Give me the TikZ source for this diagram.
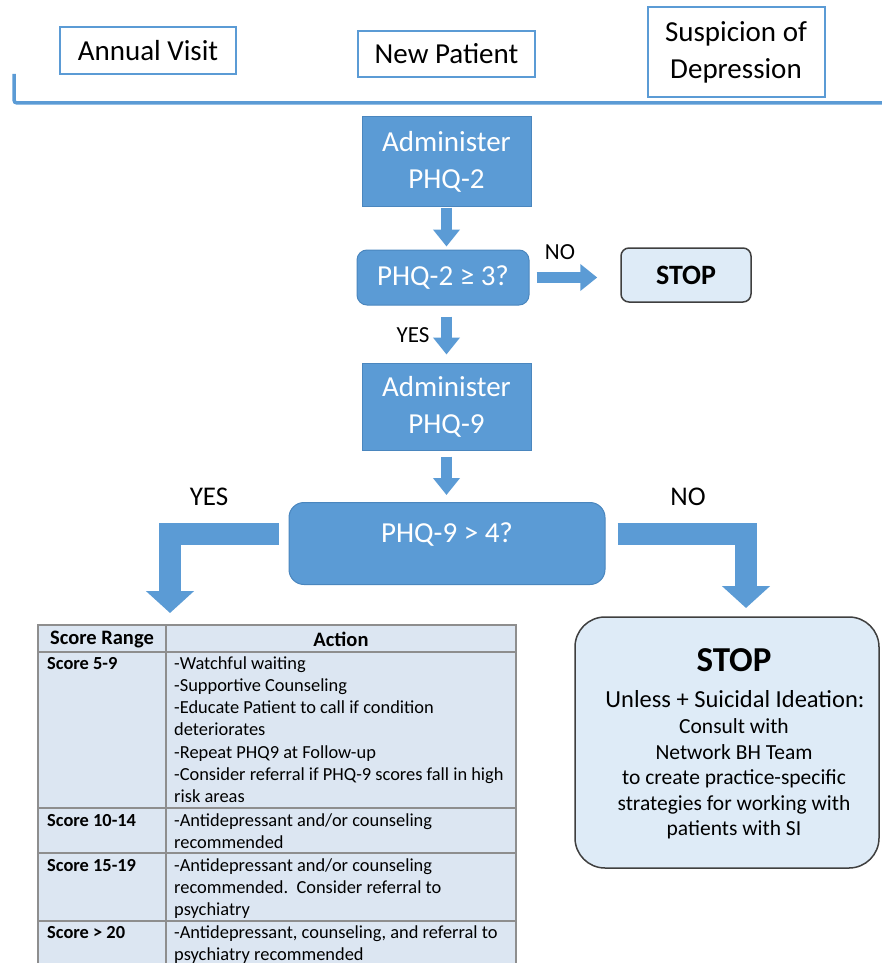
\documentclass[tikz,border=0pt]{standalone}
\usepackage{fontspec}
\setmainfont{Carlito}
\usetikzlibrary{positioning,calc,arrows.meta}
\definecolor{blockblue}{HTML}{5B9BD5}
\definecolor{blockedge}{HTML}{4A86BE}
\definecolor{stopfill}{HTML}{DEEBF7}
\definecolor{stopedge}{HTML}{3F3F3F}
\definecolor{tablefill}{HTML}{DCE6F2}
\definecolor{tableline}{HTML}{8E8E8E}

\newcommand{\boxfont}{\fontsize{29}{37}\selectfont}
\newcommand{\answerfont}{\fontsize{23}{28}\selectfont}
\newcommand{\bigansfont}{\fontsize{27}{32}\selectfont}
\newcommand{\stopsmall}{\fontsize{28}{34}\selectfont\bfseries}
\newcommand{\bigstop}{\fontsize{35}{42}\selectfont\bfseries}
\newcommand{\unlessfont}{\fontsize{24.5}{29}\selectfont}
\newcommand{\stopbody}{\fontsize{21.5}{25.5}\selectfont}
\newcommand{\tabletxt}{\fontsize{18.4}{22.2}\selectfont}
\newcommand{\tablebold}{\fontsize{18.4}{22.2}\selectfont\bfseries}
\newcommand{\headbold}{\fontsize{20.5}{24}\selectfont\bfseries}

\tikzset{
  visitbox/.style={draw=blockblue,line width=2pt,fill=white,inner sep=0pt,font=\boxfont,align=center},
  stepbox/.style={draw=blockedge,line width=1pt,fill=blockblue,text=white,inner sep=0pt,font=\boxfont,align=center},
  askbox/.style={stepbox,rounded corners=10pt},
  stopbox/.style={draw=stopedge,line width=1.5pt,fill=stopfill,inner sep=0pt},
  flowarrow/.style={blockblue,line width=11pt,-{Triangle[width=26pt,length=17pt]}},
  bigarrow/.style={blockblue,line width=22pt,line join=miter,-{Triangle[width=47pt,length=22pt]}},
  answer/.style={font=\answerfont},
  biganswer/.style={font=\bigansfont},
  cellhead/.style={font=\tablebold,anchor=north west,inner sep=0pt},
  celltext/.style={font=\tabletxt,anchor=north west,inner sep=0pt,align=left},
  rule/.style={tableline,line width=1.5pt}
}

\begin{document}
\begin{tikzpicture}[x=1pt,y=-1pt]
    \useasboundingbox (0,0) rectangle (882,963);

    % entry points
    \node[visitbox,minimum width=176pt,minimum height=47pt] (annual) at (148,50.5) {Annual Visit};
    \node[visitbox,minimum width=177pt,minimum height=46pt] (newpat) at (446.5,54) {New Patient};
    \node[visitbox,minimum width=177pt,minimum height=90pt] (suspicion) at (736,52) {Suspicion of\\Depression};
    \draw[blockblue,line width=3.5pt,rounded corners=3pt] (14,74) -- (14,103) -- (890,103);

    % PHQ-2
    \node[stepbox,minimum width=169pt,minimum height=89pt] (adm2) at (446.5,161.5) {Administer\\PHQ-2};
    \node[askbox,minimum width=172pt,minimum height=55pt] (dec2) at (443,277.5) {PHQ-2 ≥ 3?};
    \node[stopbox,rounded corners=8pt,minimum width=130pt,minimum height=54pt,font=\stopsmall] (stop1) at (686,275) {STOP};
    \draw[flowarrow,shorten <=1pt,shorten >=3pt] (adm2.south) -- (adm2.south |- dec2.north);
    \draw[flowarrow,shorten <=7pt,shorten >=23pt] (dec2.east) -- (dec2.east -| stop1.west);
    \node[answer] (no2) at (560,252) {NO};

    % PHQ-9
    \node[stepbox,minimum width=169pt,minimum height=87pt] (adm9) at (446.5,406.5) {Administer\\PHQ-9};
    \draw[flowarrow,shorten <=11pt,shorten >=8pt] (adm9.north |- dec2.south) -- (adm9.north);
    \node[answer] (yes2) at (413,335) {YES};
    \node[askbox,rounded corners=15pt,minimum width=316pt,minimum height=82pt] (dec9) at (447,543.5) {};
    \node[text=white,font=\boxfont] (dec9txt) at (447,535) {PHQ-9 > 4?};
    \draw[flowarrow,shorten <=6pt,shorten >=7pt] (adm9.south) -- (adm9.south |- dec9.north);

    % yes / no branches
    \coordinate (yestip) at (170,613);
    \coordinate (notip) at (746,608);
    \draw[bigarrow] ($(dec9.west)+(-10,-9.5)$) -| (yestip);
    \draw[bigarrow] ($(dec9.east)+(12,-9.5)$) -| (notip);
    \node[biganswer] (yes9) at (209,497) {YES};
    \node[biganswer] (no9) at (688,497) {NO};

    % final stop
    \node[stopbox,rounded corners=30pt,minimum width=304pt,minimum height=251pt] (stop2) at (727,742.5) {};
    \node[font=\bigstop] (stophead) at (734,660) {STOP};
    \node[font=\unlessfont] (stopsub) at (735,699) {Unless + Suicidal Ideation:};
    \node[font=\stopbody,align=center] (stopbody) at (734,779) {Consult with\\Network BH Team\\to create practice-specific\\strategies for working with\\patients with SI};

    % score table
    \fill[tablefill] (38,625) rectangle (516,963);
    \draw[rule] (38,963) -- (38,625) -- (516,625) -- (516,963);
    \foreach \y in {652,808,853,921}
      \draw[rule] (38,\y) -- (516,\y);
    \draw[rule] (166,625) -- (166,963);
    \node[font=\headbold] (hrange) at (102,639.5) {Score Range};
    \node[font=\headbold] (haction) at (341,639.5) {Action};
    \node[cellhead] (r1) at (47,653.5) {\strut Score 5-9};
    \node[cellhead] (r2) at (47,810.5) {\strut Score 10-14};
    \node[cellhead] (r3) at (47,855.5) {\strut Score 15-19};
    \node[cellhead] (r4) at (47,922.5) {\strut Score > 20};
    \node[celltext] (a1) at (174,653.5) {\strut -Watchful waiting\\-Supportive Counseling\\-Educate Patient to call if condition\\deteriorates\\-Repeat PHQ9 at Follow-up\\-Consider referral if PHQ-9 scores fall in high\\risk areas};
    \node[celltext] (a2) at (174,810.5) {\strut -Antidepressant and/or counseling\\recommended};
    \node[celltext] (a3) at (174,855.5) {\strut -Antidepressant and/or counseling\\recommended.\ \ Consider referral to\\psychiatry};
    \node[celltext] (a4) at (174,922.5) {\strut -Antidepressant, counseling, and referral to\\psychiatry recommended};
  \end{tikzpicture}
\end{document}
